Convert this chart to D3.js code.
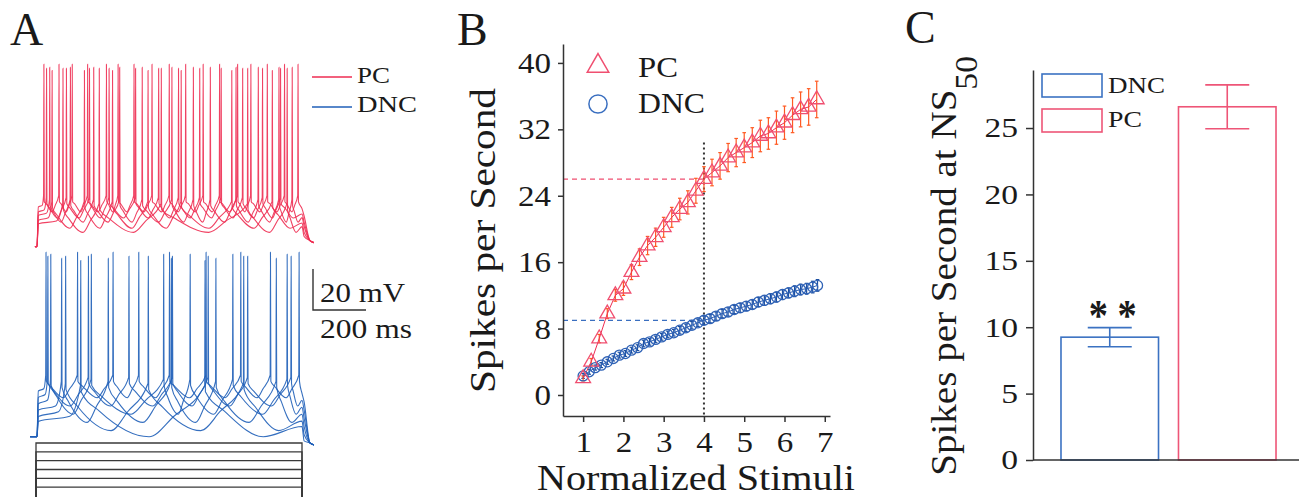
<!DOCTYPE html>
<html>
<head>
<meta charset="utf-8">
<script src="https://cdn.jsdelivr.net/npm/d3@7"></script>
<style>
  body { margin: 0; background: #fff; }
  svg { display: block; }
  text { font-family: "Liberation Serif", "Times New Roman", serif; fill: #1a1a1a; }
</style>
</head>
<body>
<div id="chart"></div>
<script>
// ---- panel A : spike times (ms) of each trace, stimulus 0..1000 ms
const pcSpikes = [
  [26, 83, 133, 191, 262, 306, 366, 434, 499, 561, 627, 689, 757, 807, 869, 934, 985],
  [36, 111, 198, 272, 372, 459, 534, 614, 695, 776, 851, 919],
  [48, 126, 214, 312, 397, 509, 590, 654, 751, 835, 913, 963],
  [57, 179, 285, 419, 544, 735, 888],
  [98, 235, 469, 795, 944]
];
const pcThr = [-50, -51, -52, -53, -54];
const pcTrough = [-58, -61, -63, -66, -68];
const pcPeak = [14, 12, 12.5, 11, 12];

const dncSpikes = [
  [34, 153, 287, 384, 500, 638, 769, 881, 989],
  [41, 194, 347, 511, 646, 795, 959],
  [52, 205, 478, 578, 739, 944],
  [93, 269, 507, 675, 903],
  [108, 420, 780],
  [165, 634]
];
const dncThr = [-45, -46, -47, -48, -49, -50];
const dncTrough = [-56, -60, -64, -68, -72, -75];
const dncPeak = [15, 13, 14, 12, 13, 11];
const restV = -75;
const stimLevels = [0.6, 0.5, 0.4, 0.3, 0.2, 0.1]; // nA

// ---- panel B
const pcX = [1.0, 1.2, 1.4, 1.6, 1.8, 2.0, 2.2, 2.4, 2.6, 2.8, 3.0, 3.2, 3.4, 3.6, 3.8,
             4.0, 4.2, 4.4, 4.6, 4.8, 5.0, 5.2, 5.4, 5.6, 5.8, 6.0, 6.2, 6.4, 6.6, 6.8];
const pcRate = [2.0, 4.0, 6.8, 9.8, 12.0, 12.8, 14.8, 16.6, 18.0, 19.0, 20.2, 21.4, 22.4, 23.2, 24.6,
                26.0, 26.8, 27.6, 28.6, 29.2, 29.8, 30.4, 31.2, 31.5, 32.2, 32.8, 33.7, 34.4, 34.7, 35.6];
const pcErr = [0.3, 0.4, 0.5, 0.6, 0.7, 0.8, 0.9, 1.0, 1.1, 1.1, 1.2, 1.2, 1.3, 1.4, 1.5,
               1.5, 1.6, 1.6, 1.7, 1.7, 1.8, 1.8, 1.9, 1.9, 2.0, 2.0, 2.1, 2.1, 2.2, 2.2];
const dncX = [1.00, 1.15, 1.30, 1.45, 1.60, 1.75, 1.90, 2.05, 2.20, 2.35, 2.50, 2.65, 2.80, 2.95,
              3.10, 3.25, 3.40, 3.55, 3.70, 3.85, 4.00, 4.15, 4.30, 4.45, 4.60, 4.75, 4.90, 5.05,
              5.20, 5.35, 5.50, 5.65, 5.80, 5.95, 6.10, 6.25, 6.40, 6.55, 6.70, 6.82];
const dncRate = [2.3, 2.8, 3.3, 3.6, 4.0, 4.4, 4.8, 5.0, 5.4, 5.7, 6.2, 6.4, 6.7, 7.0,
                 7.3, 7.5, 7.8, 8.1, 8.4, 8.7, 9.0, 9.2, 9.5, 9.8, 10.0, 10.3, 10.5, 10.7,
                 10.9, 11.2, 11.4, 11.6, 11.8, 12.1, 12.3, 12.5, 12.7, 12.8, 13.0, 13.2];
const dncErr = [0.3, 0.3, 0.3, 0.3, 0.3, 0.3, 0.35, 0.35, 0.35, 0.35, 0.4, 0.4, 0.4, 0.4,
                0.4, 0.4, 0.45, 0.45, 0.45, 0.45, 0.5, 0.5, 0.5, 0.5, 0.5, 0.5, 0.55, 0.55,
                0.55, 0.55, 0.6, 0.6, 0.6, 0.6, 0.6, 0.65, 0.65, 0.65, 0.7, 0.7];
const ns50 = 4;
const bTicksY = [0, 8, 16, 24, 32, 40];
const bTicksX = [1, 2, 3, 4, 5, 6, 7];

// ---- panel C
const cGroups = ["DNC", "PC"];
const cMeans = [9.25, 26.6];
const cErrs = [0.72, 1.65];
const cTicks = [0, 5, 10, 15, 20, 25];

const red = "#ee2d52", blue = "#1f5fb8";
const pink = "#f04f70", orange = "#ff5a22", cBlue = "#3b72c2", cPink = "#ee5577";
const axisCol = "#333";

const svg = d3.select("#chart").append("svg")
  .attr("width", 1299).attr("height", 497)
  .attr("font-family", "'Liberation Serif', 'Times New Roman', serif")
  .style("background", "#fff");

// make text longer along its reading direction (the original font is wide)
function fit(sel, len) {
  sel.attr("textLength", len).attr("lengthAdjust", "spacingAndGlyphs");
}
function widen(sel, k) {
  sel.each(function () {
    const L = this.getComputedTextLength();
    d3.select(this).attr("textLength", L * k).attr("lengthAdjust", "spacingAndGlyphs");
  });
}

// ================= Panel A =================
const xA = d3.scaleLinear().domain([0, 1000]).range([37, 302]);
const yPC = d3.scaleLinear().domain([-80, 20]).range([257, 52]);
const yDNC = d3.scaleLinear().domain([-80, 20]).range([447, 242]);
const yStim = d3.scaleLinear().domain([0, 0.6]).range([496, 443]);

function tracePoints(spikes, thr, trough, peak, endV, t0) {
  const p = [[t0, restV], [0, restV], [5, trough + 0.3 * (thr - trough)]];
  let prev = 0;
  spikes.forEach((s, i) => {
    const g = s - prev;
    if (i > 0) {
      p.push([prev + 1.5, thr - 3]);
      p.push([prev + 0.15 * g, thr - 0.5 * (thr - trough)]);
      p.push([prev + 0.55 * g, trough]);
    }
    p.push([s - 0.25 * g, trough + 0.4 * (thr - trough)]);
    p.push([s - 1.2, thr]);
    p.push([s, peak]);
    prev = s;
  });
  const g = 1000 - prev;
  p.push([prev + 1.5, thr - 3]);
  if (g > 30) {
    p.push([prev + 0.2 * g, thr - 0.5 * (thr - trough)]);
    p.push([prev + 0.6 * g, trough]);
  }
  p.push([1000, trough + 0.2 * (thr - trough)]);
  p.push([1008, trough - 2]);
  p.push([1030, endV]);
  p.push([1045, endV - 1]);
  return p;
}

const gA = svg.append("g");
const linePC = d3.line().x(d => xA(d[0])).y(d => yPC(d[1])).curve(d3.curveMonotoneX);
const lineDNC = d3.line().x(d => xA(d[0])).y(d => yDNC(d[1])).curve(d3.curveMonotoneX);

gA.selectAll("path.pc").data(pcSpikes).enter().append("path")
  .attr("class", "pc")
  .attr("d", (s, i) => linePC(tracePoints(s, pcThr[i], pcTrough[i], pcPeak[i], -72, -8)))
  .attr("fill", "none").attr("stroke", red).attr("stroke-width", 1.1).attr("opacity", 0.9);

gA.selectAll("path.dnc").data(dncSpikes).enter().append("path")
  .attr("class", "dnc")
  .attr("d", (s, i) => lineDNC(tracePoints(s, dncThr[i], dncTrough[i], dncPeak[i], -78, -26)))
  .attr("fill", "none").attr("stroke", blue).attr("stroke-width", 1.1).attr("opacity", 0.9);

// current steps
gA.selectAll("path.stim").data(stimLevels).enter().append("path")
  .attr("d", d => `M${xA(0) - 1},${yStim(-0.1)}V${yStim(d)}H${xA(1000)}V${yStim(-0.1)}`)
  .attr("fill", "none").attr("stroke", "#3a3a3a").attr("stroke-width", 1.3);

// legend A
[["PC", red, 77, 83, 33], ["DNC", blue, 107, 112, 60]].forEach(([t, c, ly, ty, len]) => {
  gA.append("line").attr("x1", 312).attr("x2", 352).attr("y1", ly).attr("y2", ly)
    .attr("stroke", c).attr("stroke-width", 1.3);
  gA.append("text").attr("x", 357).attr("y", ty).attr("font-size", 24).text(t).call(fit, len);
});

// scale bar: 20 mV by 200 ms
const barV = yDNC(-60) - yDNC(-40), barH = xA(200) - xA(0);
gA.append("path")
  .attr("d", `M313,${310 - barV}V310H${313 + barH}`)
  .attr("fill", "none").attr("stroke", axisCol).attr("stroke-width", 1.4);
gA.append("text").attr("x", 320).attr("y", 302).attr("font-size", 27).text("20 mV").call(fit, 85);
gA.append("text").attr("x", 320).attr("y", 338).attr("font-size", 27).text("200 ms").call(fit, 92);

svg.append("text").attr("x", 10).attr("y", 45).attr("font-size", 46).text("A");

// ================= Panel B =================
const xB = d3.scaleLinear().domain([0.5, 7.13]).range([563, 830]);
const yB = d3.scaleLinear().domain([-2.53, 42.28]).range([416, 44]);
const gB = svg.append("g");

// guide lines
gB.append("line").attr("x1", 563).attr("x2", xB(ns50)).attr("y1", yB(26)).attr("y2", yB(26))
  .attr("stroke", pink).attr("stroke-width", 1.3).attr("stroke-dasharray", "5,4");
gB.append("line").attr("x1", 563).attr("x2", xB(ns50)).attr("y1", yB(9)).attr("y2", yB(9))
  .attr("stroke", "#3a6fc0").attr("stroke-width", 1.3).attr("stroke-dasharray", "5,4");
gB.append("line").attr("x1", xB(ns50)).attr("x2", xB(ns50)).attr("y1", yB(30.4)).attr("y2", 416)
  .attr("stroke", "#333").attr("stroke-width", 2).attr("stroke-dasharray", "2,3");

const pcData = pcX.map((x, i) => ({ x, y: pcRate[i], e: pcErr[i] }));
const dncData = dncX.map((x, i) => ({ x, y: dncRate[i], e: dncErr[i] }));

function errBars(g, data, color, cap) {
  const e = g.append("g").selectAll("g").data(data).enter().append("g");
  e.append("line").attr("x1", d => xB(d.x)).attr("x2", d => xB(d.x))
    .attr("y1", d => yB(d.y - d.e)).attr("y2", d => yB(d.y + d.e))
    .attr("stroke", color).attr("stroke-width", 1.2);
  [-1, 1].forEach(sgn => {
    e.append("line").attr("x1", d => xB(d.x) - cap).attr("x2", d => xB(d.x) + cap)
      .attr("y1", d => yB(d.y + sgn * d.e)).attr("y2", d => yB(d.y + sgn * d.e))
      .attr("stroke", color).attr("stroke-width", 1.2);
  });
}
errBars(gB, dncData, "#1b4fa0", 1.8);
errBars(gB, pcData, orange, 1.8);

const lineB = d3.line().x(d => xB(d.x)).y(d => yB(d.y));
gB.append("path").datum(dncData).attr("d", lineB).attr("fill", "none")
  .attr("stroke", "#2d5fb0").attr("stroke-width", 1);
gB.append("path").datum(pcData).attr("d", lineB).attr("fill", "none")
  .attr("stroke", red).attr("stroke-width", 1);

gB.selectAll("path.dm").data(dncData).enter().append("path")
  .attr("d", d3.symbol().type(d3.symbolCircle).size(80))
  .attr("transform", d => `translate(${xB(d.x)},${yB(d.y)})`)
  .attr("fill", "none").attr("stroke", "#2f62b6").attr("stroke-width", 1.3);
gB.selectAll("path.pm").data(pcData).enter().append("path")
  .attr("d", d3.symbol().type(d3.symbolTriangle).size(95))
  .attr("transform", d => `translate(${xB(d.x)},${yB(d.y)})`)
  .attr("fill", "none").attr("stroke", pink).attr("stroke-width", 1.3);

// axes
const axYB = gB.append("g").attr("transform", "translate(563,0)")
  .call(d3.axisLeft(yB).tickValues(bTicksY).tickFormat(d3.format("d"))
    .tickSize(5).tickSizeOuter(0).tickPadding(7));
const axXB = gB.append("g").attr("transform", "translate(0,416)")
  .call(d3.axisBottom(xB).tickValues(bTicksX).tickFormat(d3.format("d"))
    .tickSize(6).tickSizeOuter(0).tickPadding(7));
[axYB, axXB].forEach(a => {
  a.attr("font-family", null).attr("font-size", null);
  a.selectAll("path, line").attr("stroke", axisCol).attr("stroke-width", 1.5);
  a.selectAll("text").attr("font-size", 30).attr("fill", "#1a1a1a").call(widen, 1.1);
});
axXB.selectAll("text").attr("dy", "0.75em");

// legend B
gB.append("path").attr("d", d3.symbol().type(d3.symbolTriangle).size(200))
  .attr("transform", "translate(598,66)").attr("fill", "none").attr("stroke", pink).attr("stroke-width", 1.5);
gB.append("path").attr("d", d3.symbol().type(d3.symbolCircle).size(260))
  .attr("transform", "translate(598,104)").attr("fill", "none").attr("stroke", "#3a6fc0").attr("stroke-width", 1.5);
gB.append("text").attr("x", 638).attr("y", 77).attr("font-size", 30).text("PC").call(fit, 40);
gB.append("text").attr("x", 638).attr("y", 113).attr("font-size", 30).text("DNC").call(fit, 67);

gB.append("text").attr("x", 537).attr("y", 490).attr("font-size", 35)
  .text("Normalized Stimuli").call(fit, 318);
gB.append("text").attr("transform", "translate(495,240.5) rotate(-90)")
  .attr("text-anchor", "middle").attr("font-size", 35)
  .text("Spikes per Second").call(fit, 305);

svg.append("text").attr("x", 457).attr("y", 45).attr("font-size", 46).text("B");

// ================= Panel C =================
const yC = d3.scaleLinear().domain([0, 29.37]).range([460, 70]);
const xC = d3.scaleBand().domain(cGroups).range([1051, 1286]).paddingInner(0.17).paddingOuter(0.085);
const colC = d3.scaleOrdinal().domain(cGroups).range([cBlue, cPink]);
const gC = svg.append("g");
const cData = cGroups.map((g, i) => ({ g, m: cMeans[i], e: cErrs[i] }));

gC.selectAll("rect.bar").data(cData).enter().append("rect")
  .attr("x", d => xC(d.g)).attr("width", xC.bandwidth())
  .attr("y", d => yC(d.m)).attr("height", d => yC(0) - yC(d.m))
  .attr("fill", "none").attr("stroke", d => colC(d.g)).attr("stroke-width", 1.6);

const ce = gC.selectAll("g.err").data(cData).enter().append("g").attr("stroke", d => colC(d.g)).attr("stroke-width", 1.6);
ce.append("line").attr("x1", d => xC(d.g) + xC.bandwidth() / 2).attr("x2", d => xC(d.g) + xC.bandwidth() / 2)
  .attr("y1", d => yC(d.m - d.e)).attr("y2", d => yC(d.m + d.e));
[-1, 1].forEach(sgn => {
  ce.append("line").attr("x1", d => xC(d.g) + xC.bandwidth() / 2 - 22).attr("x2", d => xC(d.g) + xC.bandwidth() / 2 + 22)
    .attr("y1", d => yC(d.m + sgn * d.e)).attr("y2", d => yC(d.m + sgn * d.e));
});

gC.append("text").attr("x", xC("DNC") + xC.bandwidth() / 2 + 3).attr("y", 330)
  .attr("text-anchor", "middle").attr("font-size", 44).attr("font-weight", "bold")
  .text("* *").call(fit, 48);

const axYC = gC.append("g").attr("transform", "translate(1033,0)")
  .call(d3.axisLeft(yC).tickValues(cTicks).tickSize(7).tickSizeOuter(0).tickPadding(8));
axYC.attr("font-family", null).attr("font-size", null);
axYC.selectAll("path, line").attr("stroke", axisCol).attr("stroke-width", 1.5);
axYC.selectAll("text").attr("font-size", 28).attr("fill", "#1a1a1a").call(widen, 1.2);
gC.append("line").attr("x1", 1033).attr("x2", 1299).attr("y1", yC(0)).attr("y2", yC(0))
  .attr("stroke", axisCol).attr("stroke-width", 1.5);

// legend C
cGroups.forEach((g, i) => {
  gC.append("rect").attr("x", 1042).attr("y", 74 + i * 35).attr("width", 60).attr("height", 23)
    .attr("fill", "none").attr("stroke", colC(g)).attr("stroke-width", 1.6);
  gC.append("text").attr("x", 1108).attr("y", 93 + i * 34).attr("font-size", 24)
    .text(g).call(fit, g === "DNC" ? 57 : 34);
});

// y label with subscript
const lab = gC.append("text").attr("font-size", 36).attr("text-anchor", "end");
lab.append("tspan").text("Spikes per Second at NS");
lab.append("tspan").attr("font-size", 31).attr("dy", 21).text("50");
const natural = lab.node().getComputedTextLength();
lab.attr("transform", `translate(956,56) rotate(-90) scale(${420 / natural},1)`);

svg.append("text").attr("x", 905).attr("y", 43).attr("font-size", 46).text("C");
</script>
</body>
</html>
